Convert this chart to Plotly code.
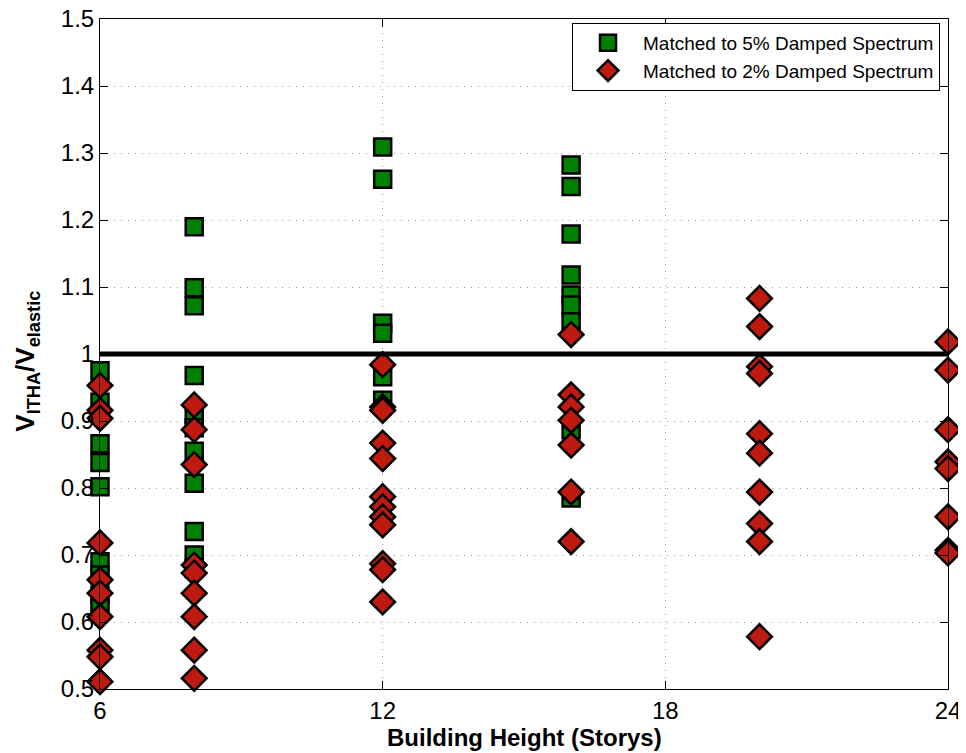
import plotly.graph_objects as go

# Building heights (storys) and V_ITHA/V_elastic ratios
heights_5 = [6]*9 + [8]*11 + [12]*6 + [16]*9
ratios_5 = [0.975, 0.928, 0.866, 0.838, 0.802, 0.69, 0.67, 0.64, 0.62,
            1.19, 1.099, 1.072, 0.968, 0.91, 0.89, 0.855, 0.807, 0.735, 0.70, 0.68,
            1.309, 1.261, 1.046, 1.031, 0.966, 0.931,
            1.282, 1.250, 1.179, 1.118, 1.088, 1.073, 1.048, 0.887, 0.785]

heights_2 = [6]*10 + [8]*9 + [12]*12 + [16]*7 + [20]*10 + [24]*8
ratios_2 = [0.953, 0.916, 0.904, 0.718, 0.663, 0.643, 0.608, 0.558, 0.548, 0.511,
            0.924, 0.887, 0.835, 0.685, 0.673, 0.643, 0.608, 0.558, 0.516,
            0.984, 0.921, 0.916, 0.867, 0.844, 0.787, 0.772, 0.757, 0.745, 0.687, 0.678, 0.630,
            1.029, 0.939, 0.921, 0.901, 0.864, 0.794, 0.720,
            1.083, 1.041, 0.981, 0.971, 0.881, 0.852, 0.794, 0.747, 0.720, 0.578,
            1.018, 0.976, 0.887, 0.839, 0.829, 0.757, 0.707, 0.703]

ref_x = [6, 24]
ref_y = [1, 1]
x_ticks = [6, 12, 18, 24]
y_ticks = [0.5, 0.6, 0.7, 0.8, 0.9, 1.0, 1.1, 1.2, 1.3, 1.4, 1.5]
y_tick_labels = ["0.5", "0.6", "0.7", "0.8", "0.9", "1", "1.1", "1.2", "1.3", "1.4", "1.5"]
x_title = "<b>Building Height (Storys)</b>"
y_title = "<b>V<sub>ITHA</sub>/V<sub>elastic</sub></b>"

FONT = "Liberation Sans, Arial, Helvetica"

fig = go.Figure()
fig.add_trace(go.Scatter(
    x=heights_5, y=ratios_5, mode="markers", name="Matched to 5% Damped Spectrum",
    marker=dict(symbol="square", size=17, color="#008000", line=dict(color="black", width=2.5)),
    cliponaxis=False))
fig.add_trace(go.Scatter(
    x=heights_2, y=ratios_2, mode="markers", name="Matched to 2% Damped Spectrum",
    marker=dict(symbol="diamond", size=19, color="#BF1A10", line=dict(color="black", width=2.5)),
    cliponaxis=False))
fig.add_trace(go.Scatter(
    x=ref_x, y=ref_y, mode="lines", showlegend=False,
    line=dict(color="black", width=5), hoverinfo="skip"))

axis_common = dict(
    showline=True, linecolor="black", linewidth=1, mirror="ticks",
    ticks="inside", ticklen=8, tickcolor="black",
    showgrid=True, gridcolor="#9a9a9a", griddash="1px,6px", gridwidth=1,
    zeroline=False, automargin=False, ticklabeloverflow="allow",
    tickfont=dict(family=FONT, size=24, color="black"),
)

fig.update_xaxes(range=[6, 24], tickvals=x_ticks, ticktext=[str(v) for v in x_ticks],
                 **axis_common)
fig.update_yaxes(range=[0.5, 1.5], tickvals=y_ticks, ticktext=y_tick_labels,
                 **axis_common)

fig.add_annotation(text=x_title, xref="paper", yref="paper", x=0.5, y=-0.0731,
                   xanchor="center", yanchor="middle", showarrow=False,
                   font=dict(family=FONT, size=24, color="black"))
fig.add_annotation(text=y_title, xref="paper", yref="paper", x=-0.0861, y=0.49,
                   xanchor="center", yanchor="middle", showarrow=False, textangle=-90,
                   font=dict(family=FONT, size=26, color="black"))

fig.update_layout(
    width=958, height=745,
    margin=dict(l=92, r=18, t=11, b=64),
    plot_bgcolor="white", paper_bgcolor="white",
    font=dict(family=FONT, color="black"),
    legend=dict(x=0.9906, y=0.994, xanchor="right", yanchor="top",
                bgcolor="white", bordercolor="black", borderwidth=1,
                font=dict(size=19, family=FONT),
                itemwidth=60, tracegroupgap=0),
)

fig.write_html("out.html")
